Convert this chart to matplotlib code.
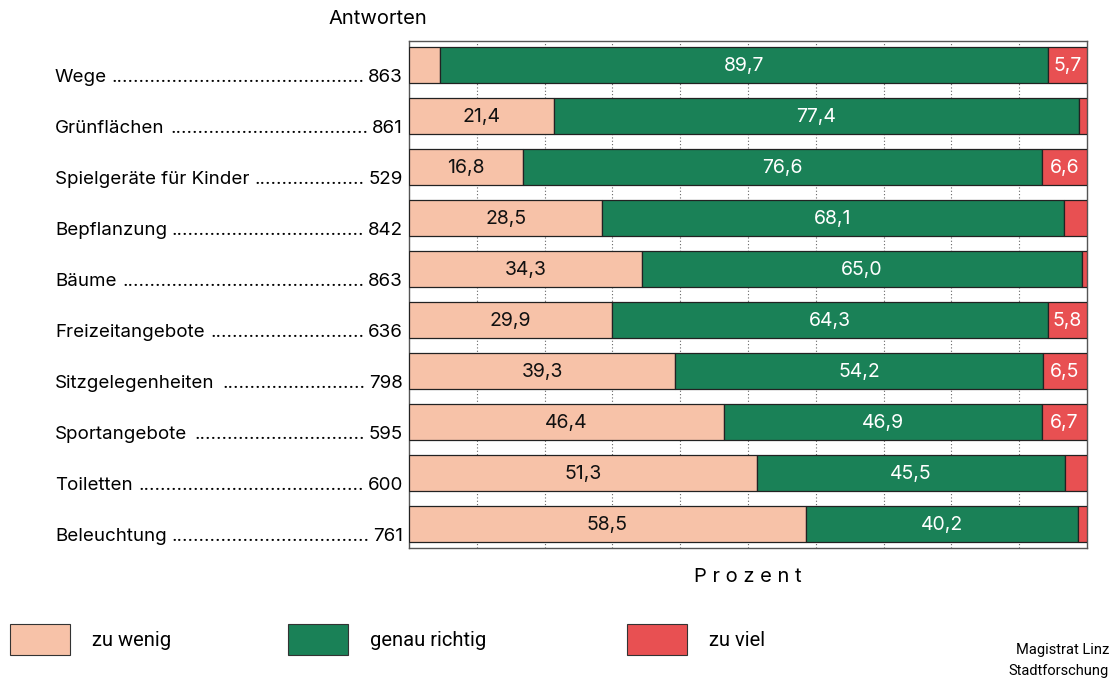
import matplotlib
matplotlib.use("Agg")
import matplotlib.pyplot as plt
from matplotlib.patches import Rectangle
import numpy as np

categories = ["Wege", "Grünflächen", "Spielgeräte für Kinder", "Bepflanzung", "Bäume",
              "Freizeitangebote", "Sitzgelegenheiten", "Sportangebote", "Toiletten", "Beleuchtung"]
antworten = [863, 861, 529, 842, 863, 636, 798, 595, 600, 761]
zu_wenig = [4.6, 21.4, 16.8, 28.5, 34.3, 29.9, 39.3, 46.4, 51.3, 58.5]
genau_richtig = [89.7, 77.4, 76.6, 68.1, 65.0, 64.3, 54.2, 46.9, 45.5, 40.2]
zu_viel = [5.7, 1.2, 6.6, 3.4, 0.7, 5.8, 6.5, 6.7, 3.2, 1.3]
series_names = ["zu wenig", "genau richtig", "zu viel"]
colors = ["#F7C2A8", "#1A8157", "#E85052"]
text_colors = ["#111111", "white", "white"]

FONT = ["Inter", "Liberation Sans", "DejaVu Sans"]
NARROW = ["Roboto", "Liberation Sans", "DejaVu Sans"]
plt.rcParams["font.family"] = FONT

W, H = 1115, 679
fig = plt.figure(figsize=(W / 100, H / 100), dpi=100)
ax = fig.add_axes([409 / W, 1 - 548 / H, (1087 - 409) / W, (548 - 41) / H])

y = np.arange(len(categories))
left = np.zeros(len(categories))
for vals, c, tc in zip([zu_wenig, genau_richtig, zu_viel], colors, text_colors):
    vals = np.array(vals)
    ax.barh(y, vals, left=left, height=0.69, color=c, edgecolor="#222222", linewidth=0.9, zorder=3)
    for yi, l, v in zip(y, left, vals):
        if v >= 5:
            ax.text(l + v / 2, yi + 0.02, f"{v:.1f}".replace(".", ","), ha="center", va="center",
                    color=tc, fontsize=14, zorder=4)
    left += vals

ax.set_xlim(0, 100)
ax.set_ylim(9.47, -0.47)
ax.set_xticks(np.arange(10, 100, 10))
ax.xaxis.grid(True, linestyle=(0, (1, 2)), color="#666666", linewidth=0.8, zorder=0)
ax.tick_params(length=0, labelbottom=False, labelleft=False)
ax.set_yticks([])
for s in ax.spines.values():
    s.set_color("#555555")
    s.set_linewidth(1.0)

# category labels with dot leaders
fig.canvas.draw()
renderer = fig.canvas.get_renderer()
x_left, x_right = 55, 403
FS = 13.5
for i, (cat, n) in enumerate(zip(categories, antworten)):
    yc = 1 - (65.5 + 51 * i + 12) / H
    t_name = fig.text(x_left / W, yc, cat, ha="left", va="center", fontsize=FS)
    t_num = fig.text(x_right / W, yc, str(n), ha="right", va="center", fontsize=FS)
    x0 = t_name.get_window_extent(renderer).x1 + 3
    x1 = t_num.get_window_extent(renderer).x0 - 4
    ndots = 1
    t = fig.text(x1 / W, yc, ".", ha="right", va="center", fontsize=FS)
    while t.get_window_extent(renderer).x0 > x0:
        ndots += 1
        t.set_text("." * ndots)
    if ndots > 1:
        t.set_text("." * (ndots - 1))

fig.text(378 / W, 1 - 19 / H, "Antworten", ha="center", va="center", fontsize=14.5)
fig.text(748 / W, 1 - 577 / H, "P r o z e n t", ha="center", va="center", fontsize=14.5)

# legend
leg_x = [10, 288, 627]
for lx, c, name in zip(leg_x, colors, series_names):
    fig.patches.append(Rectangle((lx / W, 1 - 655 / H), 60 / W, 31 / H, transform=fig.transFigure,
                                 facecolor=c, edgecolor="#333333", linewidth=0.8))
    fig.text((lx + 82) / W, 1 - 640 / H, name, ha="left", va="center", fontsize=14.5, family=NARROW)

fig.text(1109 / W, 1 - 650 / H, "Magistrat Linz", ha="right", va="center", fontsize=10.5, family=NARROW)
fig.text(1109 / W, 1 - 671 / H, "Stadtforschung", ha="right", va="center", fontsize=10.5, family=NARROW)

fig.savefig("out.png", dpi=100)
